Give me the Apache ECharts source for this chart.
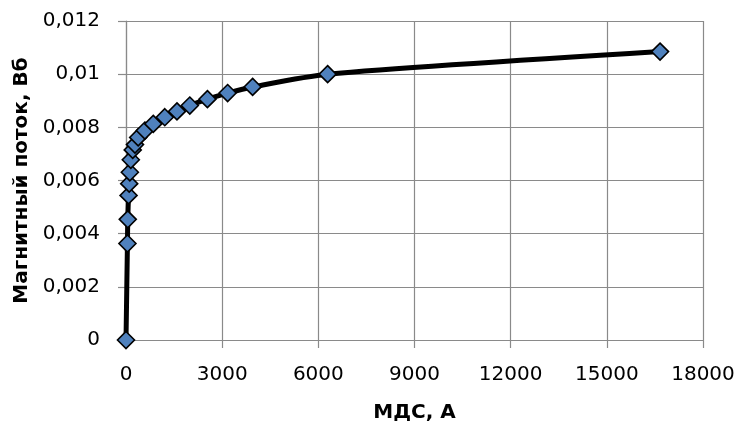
<!DOCTYPE html>
<html>
<head>
<meta charset="utf-8">
<script src="https://cdn.jsdelivr.net/npm/echarts@6/dist/echarts.min.js"></script>
<style>
  html, body { margin: 0; padding: 0; background: #ffffff; }
  #chart { width: 742px; height: 434px; }
</style>
</head>
<body>
<div id="chart"></div>
<script>
// Magnetisation curve: magnetomotive force (A) vs magnetic flux (Wb)
const mmf = [0, 45, 55, 80, 100, 120, 150, 210, 280, 380, 590, 850, 1210, 1590, 1990, 2540, 3170, 3950, 6290, 16660];
const flux = [0, 0.00363, 0.00454, 0.00544, 0.00588, 0.00631, 0.00678, 0.00715, 0.00735, 0.00762, 0.00788, 0.00813, 0.00838, 0.0086, 0.00882, 0.00906, 0.00929, 0.00952, 0.0100, 0.01085];

const xTitle = 'МДС, А';
const yTitle = 'Магнитный поток, Вб';

const points = mmf.map((x, i) => [x, flux[i]]);

const chart = echarts.init(document.getElementById('chart'), null, { renderer: 'canvas' });

const gridColor = '#8a8a8a';
const fontFamily = '"DejaVu Sans", sans-serif';

chart.setOption({
  backgroundColor: '#ffffff',
  animation: false,
  grid: { left: 126, right: 39, top: 21, bottom: 94, containLabel: false },
  xAxis: {
    type: 'value',
    min: 0,
    max: 18000,
    interval: 3000,
    name: xTitle,
    nameLocation: 'middle',
    nameGap: 63,
    nameTextStyle: { fontFamily, fontSize: 20, fontWeight: 'bold', color: '#000' },
    axisLine: { show: true, lineStyle: { color: gridColor, width: 1.2 } },
    axisTick: { show: true, length: 8, lineStyle: { color: gridColor, width: 1.2 } },
    axisLabel: { fontFamily, fontSize: 20, color: '#000', margin: 25, formatter: v => String(v) },
    splitLine: { show: true, lineStyle: { color: gridColor, width: 1.2 } }
  },
  yAxis: {
    type: 'value',
    min: 0,
    max: 0.012,
    interval: 0.002,
    name: yTitle,
    nameLocation: 'middle',
    nameGap: 93,
    nameRotate: 90,
    nameTextStyle: { fontFamily, fontSize: 20, fontWeight: 'bold', color: '#000' },
    axisLine: { show: true, lineStyle: { color: gridColor, width: 1.2 } },
    axisTick: { show: true, length: 8, lineStyle: { color: gridColor, width: 1.2 } },
    axisLabel: {
      fontFamily, fontSize: 20, color: '#000', margin: 26,
      formatter: v => String(+v.toFixed(4)).replace('.', ',')
    },
    splitLine: { show: true, lineStyle: { color: gridColor, width: 1.2 } }
  },
  series: [{
    type: 'line',
    data: points,
    smooth: 0.25,
    lineStyle: { color: '#000000', width: 5 },
    symbol: 'diamond',
    symbolSize: 17,
    itemStyle: { color: '#4f81bd', borderColor: '#000000', borderWidth: 1.6 },
    z: 3
  }]
});
</script>
</body>
</html>
